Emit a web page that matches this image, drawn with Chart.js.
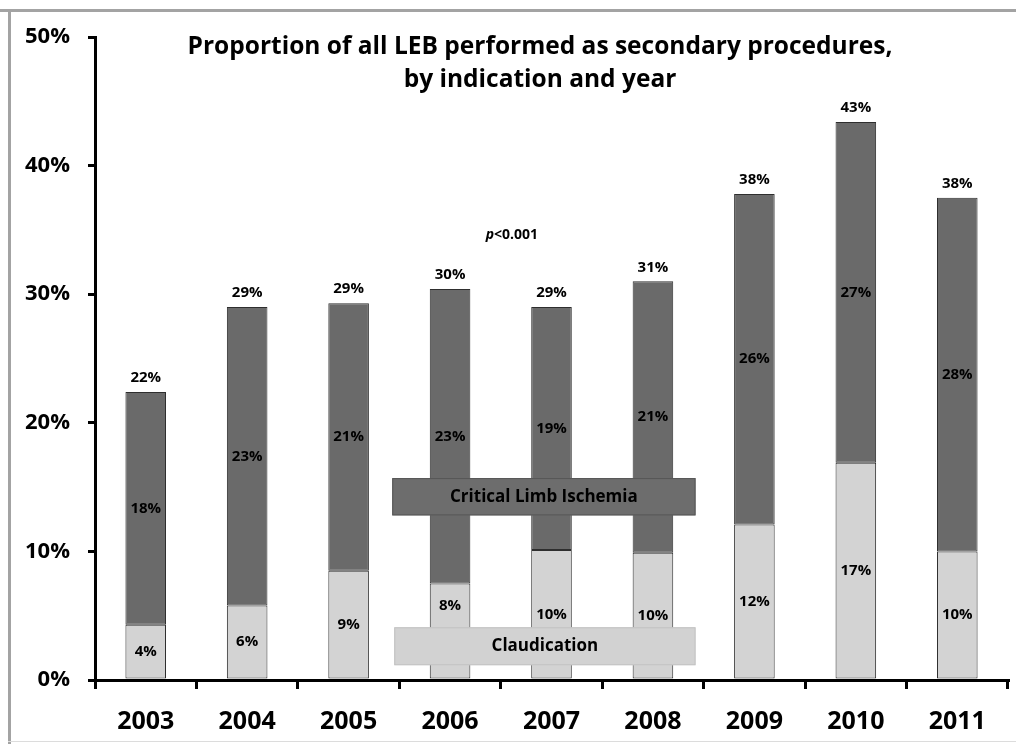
<!DOCTYPE html>
<html>
<head>
<meta charset="utf-8">
<script src="https://cdn.jsdelivr.net/npm/chart.js@4.4.0/dist/chart.umd.min.js"></script>
<style>
  html, body { margin: 0; background: #fff; }
  canvas { display: block; }
</style>
</head>
<body>
<canvas id="chart" width="1016" height="744"></canvas>
<script>
// datos
const years = ['2003', '2004', '2005', '2006', '2007', '2008', '2009', '2010', '2011'];
const claudication = [4.3, 5.8, 8.5, 7.5, 10.1, 9.9, 12.1, 16.9, 10.0];
const cli = [18.1, 23.2, 20.8, 22.9, 18.9, 21.1, 25.7, 26.5, 27.5];
const yTicks = [0, 10, 20, 30, 40, 50];
const titleLines = ['Proportion of all LEB performed as secondary procedures,', 'by indication and year'];
const seriesNames = ['Claudication', 'Critical Limb Ischemia'];
const pText = ['p', '<0.001'];

(function(){
  const FONT = '"Open Sans", "DejaVu Sans", sans-serif';
  const DARK = '#6a6a6a', LIGHT = '#d3d3d3';

  // cajas de leyenda dentro del area (indice de categoria / valor y)
  const boxes = [
    { name: seriesNames[1], x0: 2.43, x1: 5.42, y0: 15.7, y1: 12.8, fill: '#6d6d6d', stroke: '#555' },
    { name: seriesNames[0], x0: 2.45, x1: 5.42, y0: 4.1, y1: 1.15, fill: '#d2d2d2', stroke: '#c2c2c2' }
  ];

  const pct = v => Math.round(v) + '%';

  const overlay = {
    id: 'overlay',
    beforeDraw(chart) {
      const c = chart.ctx;
      c.save();
      c.fillStyle = '#fff';
      c.fillRect(0, 0, chart.width, chart.height);
      c.fillStyle = '#a3a3a3';
      c.fillRect(0, 9, chart.width, 3);
      c.fillRect(8, 9, 3, chart.height - 9);
      c.fillStyle = '#dcdcdc';
      c.fillRect(8, chart.height - 3, chart.width, 1);
      c.restore();
    },
    afterDatasetsDraw(chart) {
      const c = chart.ctx, xs = chart.scales.x, ys = chart.scales.y;
      const rects = boxes.map(b => ({
        ...b,
        left: xs.getPixelForValue(b.x0), right: xs.getPixelForValue(b.x1),
        top: ys.getPixelForValue(b.y0), bottom: ys.getPixelForValue(b.y1)
      }));
      c.save();
      c.fillStyle = '#000';
      c.textAlign = 'center';
      c.textBaseline = 'middle';
      c.font = 'bold 15px ' + FONT;

      // etiquetas de cada segmento
      chart.data.datasets.forEach((ds, di) => {
        chart.getDatasetMeta(di).data.forEach((bar, i) => {
          const top = Math.min(bar.y, bar.base), bot = Math.max(bar.y, bar.base);
          let y = (top + bot) / 2;
          const hit = rects.find(r => bar.x > r.left && bar.x < r.right && y + 8 > r.top && y - 8 < r.bottom);
          if (hit) y = (top + hit.top) / 2;
          c.fillText(pct(ds.data[i]), bar.x, y);
        });
      });

      // total encima de la barra
      const last = chart.getDatasetMeta(chart.data.datasets.length - 1).data;
      years.forEach((_, i) => {
        c.fillText(pct(claudication[i] + cli[i]), last[i].x, last[i].y - 14);
      });

      // leyenda
      rects.forEach(r => {
        c.fillStyle = r.fill;
        c.fillRect(r.left, r.top, r.right - r.left, r.bottom - r.top);
        c.strokeStyle = r.stroke;
        c.lineWidth = 1;
        c.strokeRect(r.left + 0.5, r.top + 0.5, r.right - r.left - 1, r.bottom - r.top - 1);
        c.fillStyle = '#000';
        c.font = 'bold 17px ' + FONT;
        c.fillText(r.name, (r.left + r.right) / 2, (r.top + r.bottom) / 2);
      });

      // p valor
      const px = xs.getPixelForValue(3.61), py = ys.getPixelForValue(34.6);
      c.font = 'italic bold 14px ' + FONT;
      const w0 = c.measureText(pText[0]).width;
      c.font = 'bold 14px ' + FONT;
      const w1 = c.measureText(pText[1]).width;
      c.textAlign = 'left';
      c.font = 'italic bold 14px ' + FONT;
      c.fillText(pText[0], px - (w0 + w1) / 2, py);
      c.font = 'bold 14px ' + FONT;
      c.fillText(pText[1], px - (w0 + w1) / 2 + w0, py);

      // titulo
      c.textAlign = 'center';
      c.font = 'bold 24.5px ' + FONT;
      c.fillText(titleLines[0], 540, 47);
      c.fillText(titleLines[1], 540, 80);
      c.restore();
    }
  };

  new Chart(document.getElementById('chart'), {
    type: 'bar',
    data: {
      labels: years,
      datasets: [
        { label: seriesNames[0], data: claudication, backgroundColor: LIGHT },
        { label: seriesNames[1], data: cli, backgroundColor: DARK }
      ].map(d => ({ ...d, borderColor: '#2e2e2e', borderWidth: 1, borderSkipped: false, barPercentage: 0.8, categoryPercentage: 0.5 }))
    },
    options: {
      responsive: false,
      animation: false,
      layout: { padding: { top: 37, right: 8, left: 0, bottom: 0 } },
      plugins: { legend: { display: false }, tooltip: { enabled: false }, title: { display: false } },
      scales: {
        x: {
          stacked: true,
          grid: { drawOnChartArea: false, drawTicks: true, tickLength: 9, color: '#000', lineWidth: 3 },
          border: { color: '#000', width: 3 },
          ticks: { color: '#000', font: { family: FONT, size: 25, weight: 'bold' }, padding: 18 },
          afterFit(s) { s.height = 64; }
        },
        y: {
          stacked: true,
          min: 0, max: 50,
          afterBuildTicks(s) { s.ticks = yTicks.map(v => ({ value: v })); },
          grid: { drawOnChartArea: false, drawTicks: true, tickLength: 7, color: '#000', lineWidth: 3 },
          border: { color: '#000', width: 3 },
          ticks: { color: '#000', font: { family: FONT, size: 22, weight: 'bold' }, padding: 18, callback: v => v + '%' },
          afterFit(s) { s.width = 95; }
        }
      }
    },
    plugins: [overlay]
  });
})();
</script>
</body>
</html>
